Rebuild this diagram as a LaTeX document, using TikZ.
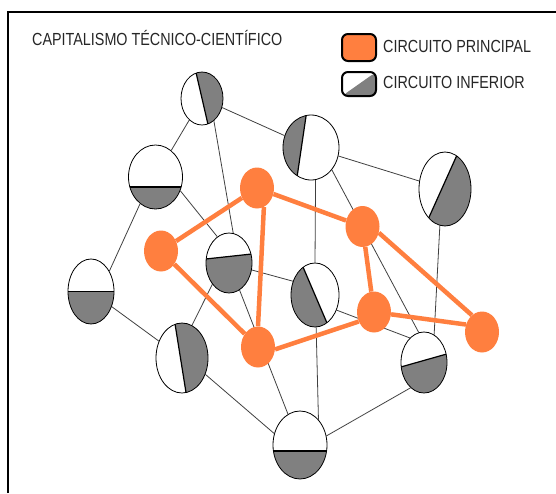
\documentclass[tikz,border=0pt]{standalone}
\usepackage{fontspec}
\setmainfont{Liberation Sans}
\usepackage{graphicx}
\usepackage{tikz}
\usetikzlibrary{shapes.geometric,backgrounds}

\definecolor{principal}{RGB}{255,127,63}
\definecolor{inferior}{RGB}{128,128,128}

\newcommand{\narrowtext}[1]{\scalebox{0.82}[1]{\fontsize{17.5}{20}\selectfont #1}}

% name, position, x radius, y radius, angle of the grey side, offset of the split
\newcommand{\infnode}[6]{%
	\begin{scope}
		\clip (#2) ellipse [x radius=#3pt, y radius=#4pt];
		\fill[white] (#2) ellipse [x radius=#3pt, y radius=#4pt];
		\begin{scope}[shift={(#2)}, rotate=#5]
			\fill[inferior] (#6,-90) rectangle (90,90);
			\draw[line width=1.2pt] (#6,-90) -- (#6,90);
		\end{scope}
	\end{scope}
	\node[inf, minimum width={2*#3pt}, minimum height={2*#4pt}] (#1) at (#2) {};
}

\begin{document}
\begin{tikzpicture}[x=1pt, y=-1pt,
	inf/.style={ellipse, draw=black, line width=0.8pt, inner sep=0pt},
	prin/.style={ellipse, fill=principal, minimum width=34pt, minimum height=41pt, inner sep=0pt},
	link/.style={black!75, line width=0.8pt},
	mainlink/.style={principal, line width=4.5pt},
	keytext/.style={anchor=base west, inner sep=0pt, text=black!85}
]
	\useasboundingbox (0,0) rectangle (556,493);

	% frame
	\draw[line width=1.5pt] (8,493) -- (8,12) -- (556,12);

	% title and legend
	\node[keytext] (title) at (32,45) {\narrowtext{CAPITALISMO TÉCNICO-CIENTÍFICO}};

	\node[draw, line width=2pt, rounded corners=6pt, fill=principal, inner sep=0pt,
		minimum width=34pt, minimum height=27pt] (keyP) at (359,47.5) {};
	\node[draw, line width=2pt, rounded corners=6pt, fill=white, inner sep=0pt,
		minimum width=34pt, minimum height=24pt,
		path picture={\fill[inferior] (path picture bounding box.south west)
			-- (path picture bounding box.north east)
			-- (path picture bounding box.south east) -- cycle;}] (keyI) at (359,84) {};
	\node[keytext] (keyPtext) at (383,52) {\narrowtext{CIRCUITO PRINCIPAL}};
	\node[keytext] (keyItext) at (383,88) {\narrowtext{CIRCUITO INFERIOR}};

	% circuito inferior
	\infnode{i1}{202,98.5}{21}{26.5}{13}{0}
	\infnode{i2}{311,147.5}{28}{32.5}{171.6}{9.5}
	\infnode{i3}{155.5,177}{27}{32}{-90}{10}
	\infnode{i4}{445,189}{26}{37}{-24.2}{-3}
	\infnode{i5}{229,263}{23}{30}{-83.8}{-6.5}
	\infnode{i6}{91,291.5}{23}{32.5}{-90}{0}
	\infnode{i7}{315,295}{24}{32}{-156.8}{0}
	\infnode{i8}{182,358}{26}{35}{9.1}{-1.5}
	\infnode{i9}{424,362.5}{23}{30.5}{-74.2}{-2}
	\infnode{i10}{300,445}{27}{34}{-90}{6}

	% circuito principal
	\node[prin] (p1) at (257,188) {};
	\node[prin] (p2) at (362.5,226.5) {};
	\node[prin] (p3) at (161,251) {};
	\node[prin] (p4) at (374,312) {};
	\node[prin] (p5) at (482,332) {};
	\node[prin] (p6) at (258,347) {};

	\begin{scope}[on background layer]
		% thin links
		\draw[link] (i1) -- (i3);
		\draw[link] (i1) -- (i2);
		\draw[link] (i1.-62) -- (i5.82);
		\draw[link] (i2) -- (i4);
		\draw[link] (i2.-82) -- (i7.north);
		\draw[link] (i2.-47) -- (i9.100);
		\draw[link] (i3.-120) -- (i6.48);
		\draw[link] (i3.-29) -- (i5.114);
		\draw[link] (i4.-98) -- (i9.70);
		\draw[link] (i6) -- (i8);
		\draw[link] (i5.-128) -- (i8.73);
		\draw[link] (i5.-17) -- (i7.148);
		\draw[link] (i5) -- (i10);
		\draw[link] (i7.-88) -- (i10.54);
		\draw[link] (i7.-35) -- (i9.120);
		\draw[link] (i8.-35) -- (i10.156);
		\draw[link] (i9.-118) -- (i10.19);

		% thick links
		\draw[mainlink] (p1) -- (p3);
		\draw[mainlink] (p1) -- (p2);
		\draw[mainlink] (p1.-70) -- (p6.north);
		\draw[mainlink] (p3) -- (p6);
		\draw[mainlink] (p6.-8) -- (p4.212);
		\draw[mainlink] (p2) -- (p4);
		\draw[mainlink] (p2.-21) -- (p5.121);
		\draw[mainlink] (p4) -- (p5.155);
	\end{scope}

\end{tikzpicture}
\end{document}
